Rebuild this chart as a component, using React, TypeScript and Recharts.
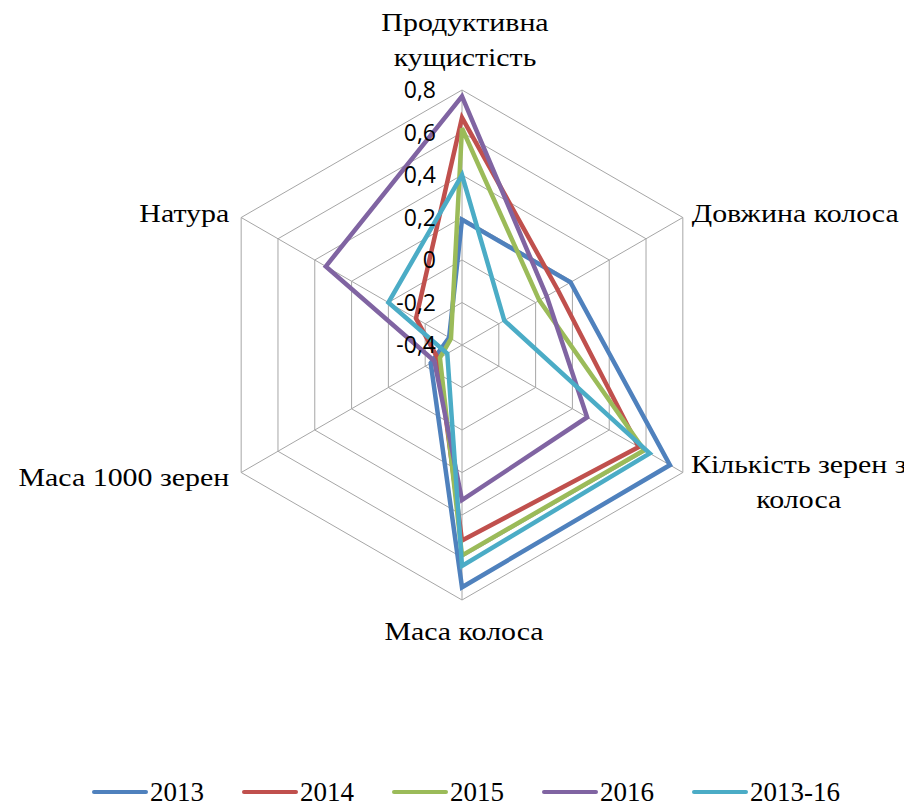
import { PolarAngleAxis, PolarGrid, PolarRadiusAxis, Radar, RadarChart } from "recharts";

const categories = [
  "Продуктивна кущистість",
  "Довжина колоса",
  "Кількість зерен з колоса",
  "Маса колоса",
  "Маса 1000 зерен",
  "Натура",
];

const v2013 = [0.19, 0.19, 0.73, 0.74, -0.23, -0.33];
const v2014 = [0.67, 0.12, 0.56, 0.52, -0.27, -0.15];
const v2015 = [0.62, 0.02, 0.59, 0.59, -0.28, -0.34];
const v2016 = [0.77, 0.06, 0.28, 0.33, -0.25, 0.34];
const vAll = [0.4, -0.17, 0.62, 0.64, -0.32, 0.0];

const radiusTicks = [-0.4, -0.2, 0, 0.2, 0.4, 0.6, 0.8];

const series = [
  { key: "2013", values: v2013, color: "#4F81BD" },
  { key: "2014", values: v2014, color: "#C0504D" },
  { key: "2015", values: v2015, color: "#9BBB59" },
  { key: "2016", values: v2016, color: "#8064A2" },
  { key: "2013-16", values: vAll, color: "#4BACC6" },
];

const data = categories.map((name, i) => {
  const row: Record<string, string | number> = { name };
  series.forEach((s) => (row[s.key] = s.values[i]));
  return row;
});

const serif = "'Liberation Serif', 'Times New Roman', serif";

// label placement around the hexagon, relative to the tick anchor recharts gives
const labelLayout = [
  { dx: 3, dy: [-51, -16], anchor: "middle" },
  { dx: 2, dy: [8], anchor: "start" },
  { dx: 109, dy: [-4, 31], anchor: "middle" },
  { dx: 2, dy: [32], anchor: "middle" },
  { dx: -5, dy: [9], anchor: "end" },
  { dx: -5, dy: [8], anchor: "end" },
];

function splitLabel(text: string, i: number) {
  if (i === 0) return text.split(" ");
  if (i === 2) {
    const k = text.lastIndexOf(" ");
    return [text.slice(0, k), text.slice(k + 1)];
  }
  return [text];
}

function AngleTick(props: any) {
  const { x, y, payload } = props;
  const i = payload.index ?? categories.indexOf(payload.value);
  const lay = labelLayout[i];
  const lines = splitLabel(String(payload.value), i);
  return (
    <g>
      {lines.map((ln, j) => (
        // the source font runs a bit wider than Times, so stretch it sideways
        <g key={j} transform={`translate(${x + lay.dx},${y + lay.dy[j]}) scale(1.15,1)`}>
          <text x={0} y={0} textAnchor={lay.anchor} fontFamily={serif} fontSize={26} fill="#000">
            {ln}
          </text>
        </g>
      ))}
    </g>
  );
}

function RadiusTick(props: any) {
  const { x, y, payload } = props;
  return (
    <text
      x={x - 26}
      y={y + 8}
      textAnchor="end"
      fontFamily="'Open Sans', sans-serif"
      fontSize={23}
      fill="#000"
    >
      {String(payload.value).replace(".", ",")}
    </text>
  );
}

export default function App() {
  return (
    <div style={{ position: "relative", width: 904, height: 799 }}>
      <RadarChart
        width={904}
        height={799}
        data={data}
        cx={454}
        cy={337}
        outerRadius={255}
        margin={{ top: 0, right: 0, bottom: 0, left: 0 }}
      >
        <PolarGrid gridType="polygon" stroke="#A6A6A6" strokeWidth={1} />
        <PolarAngleAxis dataKey="name" tick={AngleTick} tickLine={false} axisLine={false} />
        {/* allowDecimals is off by default on the radius axis and that stretches the domain */}
        <PolarRadiusAxis
          angle={90}
          type="number"
          domain={[-0.4, 0.8]}
          allowDecimals
          tickCount={7}
          ticks={radiusTicks}
          tick={RadiusTick}
          axisLine={false}
          tickLine={false}
        />
        {series.map((s) => (
          <Radar
            key={s.key}
            dataKey={s.key}
            name={s.key}
            stroke={s.color}
            strokeWidth={4.5}
            fill="none"
            fillOpacity={0}
            dot={false}
            isAnimationActive={false}
          />
        ))}
      </RadarChart>
      <div
        style={{
          position: "absolute",
          left: 84,
          top: 774,
          display: "flex",
          fontFamily: serif,
          fontSize: 27,
          lineHeight: "20px",
          whiteSpace: "nowrap",
        }}
      >
        {series.map((s) => (
          <div key={s.key} style={{ width: 150, display: "flex", alignItems: "center" }}>
            <span
              style={{
                display: "inline-block",
                width: 56,
                height: 4,
                borderRadius: 2,
                background: s.color,
                marginRight: 2,
                flexShrink: 0,
              }}
            />
            <span>{s.key}</span>
          </div>
        ))}
      </div>
    </div>
  );
}
